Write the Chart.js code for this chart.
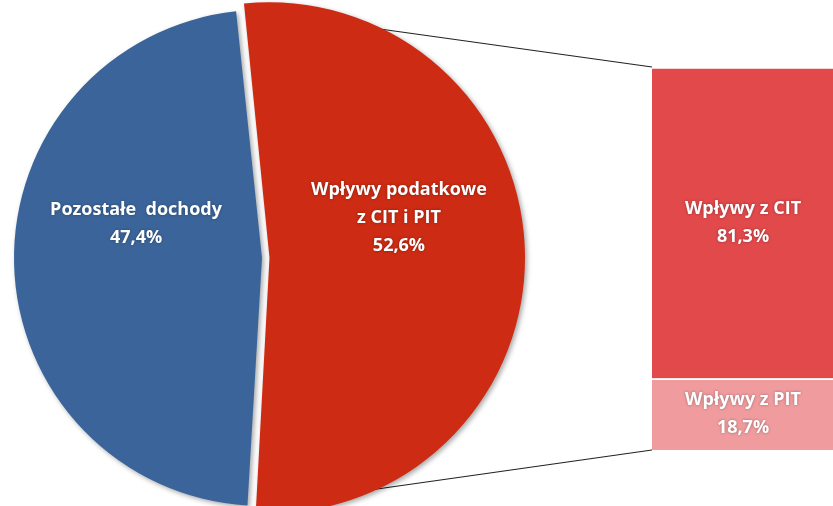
<!DOCTYPE html>
<html>
<head>
<meta charset="utf-8">
<script src="https://cdn.jsdelivr.net/npm/chart.js@4.4.0/dist/chart.umd.min.js"></script>
<style>
body{margin:0;background:#fff;overflow:hidden}
#wrap{position:relative;width:833px;height:506px}
#pie{position:absolute;left:0;top:0}
#bar{position:absolute;left:652px;top:67px}
</style>
</head>
<body>
<div id="wrap">
  <canvas id="pie" width="833" height="506"></canvas>
  <canvas id="bar" width="182" height="383"></canvas>
</div>
<script>
// data
const pieCategories = [['Wpływy podatkowe', 'z CIT i PIT'], ['Pozostałe  dochody']];
const pieValues = [52.6, 47.4];
const pieColors = ['#CD2B13', '#3B659A'];

const barCategories = ['Wpływy z PIT', 'Wpływy z CIT'];
const barValues = [18.7, 81.3];
const barColors = ['#F09C9E', '#E2494B'];

function fmtPct(v)
{
  return v.toFixed(1).replace('.', ',') + '%';
}

function drawLines(ctx, lines, x, y)
{
  const lh = 28;
  let top = y - (lines.length - 1) * lh / 2;
  ctx.save();
  ctx.font = 'bold 18px "Open Sans", sans-serif';
  ctx.fillStyle = '#fff';
  ctx.textAlign = 'center';
  ctx.textBaseline = 'middle';
  ctx.shadowColor = 'rgba(0,0,0,0.35)';
  ctx.shadowBlur = 3;
  lines.forEach((t, i) => ctx.fillText(t, x, top + i * lh));
  ctx.restore();
}

// bar on the right
const barLabelPlugin = {
  id: 'barLabels',
  afterDatasetsDraw(chart) {
    chart.data.datasets.forEach((ds, i) => {
      chart.getDatasetMeta(i).data.forEach((el) => {
        drawLines(chart.ctx, [ds.label, fmtPct(ds.data[0])], el.x, (el.y + el.base) / 2);
      });
    });
  }
};

const barChart = new Chart(document.getElementById('bar'), {
  type: 'bar',
  data: {
    labels: ['x'],
    datasets: barCategories.map((c, i) => ({
      label: c,
      data: [barValues[i]],
      backgroundColor: barColors[i],
      borderColor: 'rgba(255,255,255,0.6)',
      borderWidth: {top: 2, left: 0, right: 0, bottom: 0},
      borderSkipped: false,
      barPercentage: 1,
      categoryPercentage: 1
    }))
  },
  options: {
    responsive: false,
    animation: false,
    layout: {padding: 0},
    plugins: {legend: {display: false}, tooltip: {enabled: false}},
    scales: {
      x: {display: false, stacked: true},
      y: {display: false, stacked: true, min: 0, max: 100}
    }
  },
  plugins: [barLabelPlugin]
});

// pie with connector lines
const piePlugin = {
  id: 'pieExtras',
  beforeDatasetsDraw(chart) {
    const ctx = chart.ctx;
    const arc = chart.getDatasetMeta(0).data[0];
    const half = (arc.startAngle + arc.endAngle) / 2;
    const shift = (arc.options.offset || 0) / 2;
    const cx = arc.x + Math.cos(half) * shift;
    const cy = arc.y + Math.sin(half) * shift;
    const r = arc.outerRadius;
    const bar = barChart.getDatasetMeta(1).data[0];
    const low = barChart.getDatasetMeta(0).data[0];
    const bx = 652 + bar.x - bar.width / 2;
    const p1 = [cx + r * Math.cos(arc.startAngle), cy + r * Math.sin(arc.startAngle)];
    const p2 = [cx + r * Math.cos(arc.endAngle), cy + r * Math.sin(arc.endAngle)];
    ctx.save();
    ctx.strokeStyle = '#222';
    ctx.lineWidth = 1.2;
    ctx.beginPath();
    ctx.moveTo(p1[0], p1[1]);
    ctx.lineTo(bx, 67 + bar.y);
    ctx.moveTo(p2[0], p2[1]);
    ctx.lineTo(bx, 67 + low.base);
    ctx.stroke();
    ctx.restore();
    ctx.shadowColor = 'rgba(0,0,0,0.35)';
    ctx.shadowBlur = 5;
    ctx.shadowOffsetX = 2;
    ctx.shadowOffsetY = 2;
  },
  afterDatasetsDraw(chart) {
    const ctx = chart.ctx;
    ctx.shadowColor = 'transparent';
    ctx.shadowBlur = 0;
    ctx.shadowOffsetX = 0;
    ctx.shadowOffsetY = 0;
    chart.getDatasetMeta(0).data.forEach((el, i) => {
      const pos = el.tooltipPosition();
      let lines = pieCategories[i].concat([fmtPct(pieValues[i])]);
      drawLines(ctx, lines, pos.x - 2, pos.y - 37);
    });
  }
};

new Chart(document.getElementById('pie'), {
  type: 'pie',
  data: {
    labels: pieCategories,
    datasets: [{
      data: pieValues,
      backgroundColor: pieColors,
      borderWidth: 0,
      offset: [30, 0],
      radius: 248
    }]
  },
  options: {
    responsive: false,
    animation: false,
    rotation: -6,
    radius: 248,
    layout: {padding: {left: 0, right: 309, top: 10, bottom: 0}},
    plugins: {legend: {display: false}, tooltip: {enabled: false}}
  },
  plugins: [piePlugin]
});
</script>
</body>
</html>
